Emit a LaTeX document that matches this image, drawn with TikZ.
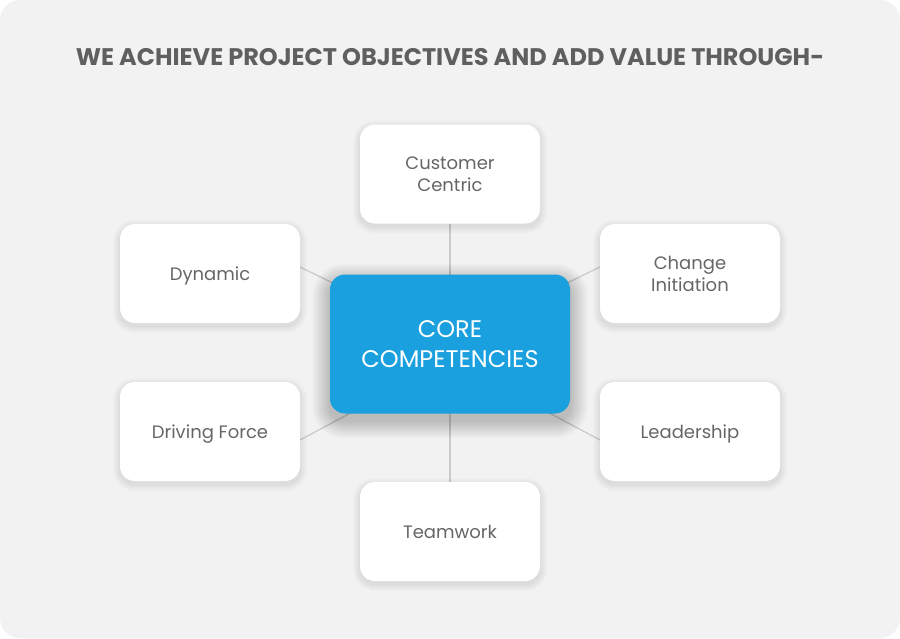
\documentclass[tikz,border=0pt]{standalone}
\usepackage{fontspec}
\setmainfont{Poppins}
\pgfdeclarelayer{background}
\pgfdeclarelayer{shadow}
\pgfsetlayers{background,shadow,main}
\definecolor{bg}{HTML}{F2F2F2}
\definecolor{coreblue}{HTML}{1A9FDF}
\definecolor{txtgray}{HTML}{666666}
\definecolor{titlegray}{HTML}{5F5F5F}
\definecolor{linegray}{HTML}{CCCCCC}
\tikzset{
  smallbox/.style={draw=none, fill=white, rounded corners=15pt, minimum width=180pt, minimum height=99pt,
    align=center, text=txtgray, text depth=0pt, font=\fontsize{18}{22}\selectfont},
  corebox/.style={draw=none, fill=coreblue, rounded corners=15pt, minimum width=240pt, minimum height=139pt,
    align=center, text=white, font=\fontsize{24}{30}\selectfont},
  link/.style={draw=linegray, line width=1.3pt}
}
\newcommand\mysoftshadow[4]{% node, layers, opacity, yshift
  \foreach \k in {1,...,#2}{
    \fill[black, opacity=#3, rounded corners={(15+\k)*1pt}]
      ([shift={(-\k,-\k+#4)}]#1.north west) rectangle ([shift={(\k,\k+#4)}]#1.south east);
  }}
\begin{document}
\begin{tikzpicture}[x=1pt,y=-1pt]
\useasboundingbox (0,0) rectangle (900,638);
\node[text=titlegray, font=\fontsize{24}{28}\bfseries\selectfont] (title) at (450,57) {WE ACHIEVE PROJECT OBJECTIVES AND ADD VALUE THROUGH-};
\node[corebox] (core) at (450,344) {CORE\\COMPETENCIES};
\node[smallbox] (cust) at (450,174) {Customer\\Centric};
\node[smallbox] (dyn) at (210,273.5) {Dynamic};
\node[smallbox] (chg) at (690,273.5) {Change\\Initiation};
\node[smallbox] (drv) at (210,431.5) {Driving Force};
\node[smallbox] (lead) at (690,431.5) {Leadership};
\node[smallbox] (team) at (450,531.5) {Teamwork};
\coordinate (dynE) at (300,267);
\coordinate (chgW) at (600,267);
\coordinate (drvE) at (300,440);
\coordinate (leadW) at (600,440);
\coordinate (coreU) at (450,340);
\coordinate (coreD) at (450,360);
\begin{pgfonlayer}{background}
\fill[white] (0,0) rectangle (900,638);
\fill[bg, rounded corners=20pt] (0,0) rectangle (900,638);
\draw[link] (core.center) -- (cust.south);
\draw[link] (core.center) -- (team.north);
\draw[link] (coreU) -- (dynE);
\draw[link] (coreU) -- (chgW);
\draw[link] (coreD) -- (drvE);
\draw[link] (coreD) -- (leadW);
\end{pgfonlayer}
\begin{pgfonlayer}{shadow}
\mysoftshadow{cust}{7}{0.012}{3}
\mysoftshadow{dyn}{7}{0.012}{3}
\mysoftshadow{chg}{7}{0.012}{3}
\mysoftshadow{drv}{7}{0.012}{3}
\mysoftshadow{lead}{7}{0.012}{3}
\mysoftshadow{team}{7}{0.012}{3}
\mysoftshadow{core}{18}{0.010}{7}
\end{pgfonlayer}
\end{tikzpicture}
\end{document}
